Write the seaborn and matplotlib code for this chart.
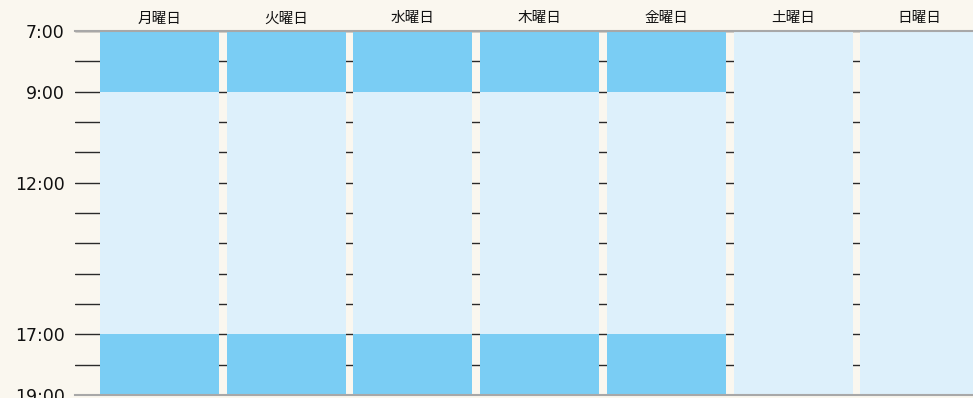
import matplotlib
matplotlib.use("Agg")
import matplotlib.pyplot as plt
import seaborn as sns
import pandas as pd

# ---- data ----
days = ["月曜日", "火曜日", "水曜日", "木曜日", "金曜日", "土曜日", "日曜日"]
seg_day = ["月曜日", "月曜日", "月曜日",
           "火曜日", "火曜日", "火曜日",
           "水曜日", "水曜日", "水曜日",
           "木曜日", "木曜日", "木曜日",
           "金曜日", "金曜日", "金曜日",
           "土曜日", "日曜日"]
seg_start = [7, 9, 17, 7, 9, 17, 7, 9, 17, 7, 9, 17, 7, 9, 17, 7, 7]
seg_end = [9, 17, 19, 9, 17, 19, 9, 17, 19, 9, 17, 19, 9, 17, 19, 19, 19]
seg_status = ["予約", "空き", "予約"] * 5 + ["空き", "空き"]
hour_ticks = list(range(7, 20))
hour_labels = {7: "7:00", 9: "9:00", 12: "12:00", 17: "17:00", 19: "19:00"}

palette = {"予約": "#7acdf4", "空き": "#ddf0fb"}
bg = "#faf7ef"

df = pd.DataFrame({"day": seg_day, "start": seg_start, "end": seg_end,
                   "status": seg_status})
# layer: segments with later end drawn first, earlier ones painted over them
df["layer"] = df.groupby("day")["end"].rank(ascending=False, method="first").astype(int)

sns.set_theme(style="white")
plt.rcParams["font.family"] = ["DejaVu Sans", "Noto Sans CJK JP"]

fig = plt.figure(figsize=(9.73, 3.98), dpi=100, facecolor=bg)
ax = fig.add_axes([75 / 973, 1 - 395 / 398, 1 - 75 / 973, (395 - 31) / 398])
ax.set_facecolor(bg)

for layer in sorted(df["layer"].unique()):
    sub = df[df["layer"] == layer]
    sns.barplot(data=sub, x="day", y="end", hue="status", order=days,
                palette=palette, width=0.94, dodge=False, legend=False,
                saturation=1, linewidth=0, ax=ax, zorder=2)

ax.set_ylim(19, 7)
ax.set_xlim(-0.667, 6.42)
ax.set_yticks(hour_ticks)
ax.set_yticklabels([hour_labels.get(h, "") for h in hour_ticks])
ax.set_axisbelow(True)
ax.yaxis.grid(True, color="#2a2a2a", linewidth=1)
ax.xaxis.grid(False)
ax.tick_params(axis="y", length=0, pad=7.5, labelsize=12.5, colors="#111111")
ax.xaxis.tick_top()
ax.tick_params(axis="x", length=0, pad=4, colors="#111111")
for lab in ax.get_xticklabels():
    lab.set_fontfamily(["Noto Sans CJK JP", "DejaVu Sans"])
    lab.set_fontsize(10.5)
ax.set_xlabel("")
ax.set_ylabel("")
for s in ["left", "right"]:
    ax.spines[s].set_visible(False)
for s in ["top", "bottom"]:
    ax.spines[s].set_visible(True)
    ax.spines[s].set_color("#a8a8a8")
    ax.spines[s].set_linewidth(1.5)
    ax.spines[s].set_zorder(5)

fig.savefig("out.png", dpi=100, facecolor=bg)
